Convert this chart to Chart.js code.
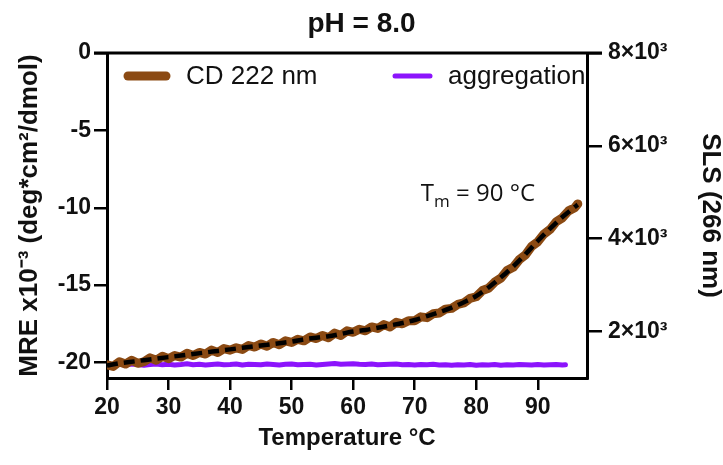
<!DOCTYPE html>
<html><head><meta charset="utf-8">
<script src="https://cdn.jsdelivr.net/npm/chart.js@4.4.1/dist/chart.umd.min.js"></script>
<style>html,body{margin:0;padding:0;background:#fff}#wrap{width:723px;height:465px}</style>
</head><body><div id="wrap"><canvas id="c" width="723" height="465"></canvas></div>
<script>
// ---------- data ----------
const chartTitle = "pH = 8.0";
const xTicks = [20, 30, 40, 50, 60, 70, 80, 90];
const leftTicks = [-20, -15, -10, -5, 0];
const leftTickLabels = ["-20", "-15", "-10", "-5", "0"];
const rightTicks = [2000, 4000, 6000, 8000];
const rightTickLabels = ["2×10³", "4×10³", "6×10³", "8×10³"];

const cdTemps = [20,21,22,23,24,25,26,27,28,29,30,31,32,33,34,35,36,37,38,39,40,41,42,43,44,45,46,47,48,49,
  50,51,52,53,54,55,56,57,58,59,60,61,62,63,64,65,66,67,68,69,70,71,72,73,74,75,76,77,78,79,
  80,81,82,83,84,85,86,87,88,89,90,91,92,93,94,95,96,96.5];
const cdValues = [-20.15,-20.25,-19.95,-20.10,-19.85,-20.05,-19.95,-19.70,-19.85,-19.60,
  -19.75,-19.55,-19.65,-19.40,-19.55,-19.35,-19.45,-19.20,-19.35,-19.10,
  -19.20,-19.05,-19.15,-18.90,-19.00,-18.80,-18.95,-18.70,-18.85,-18.60,
  -18.70,-18.50,-18.60,-18.35,-18.45,-18.25,-18.40,-18.10,-18.25,-17.95,
  -18.05,-17.85,-17.95,-17.70,-17.80,-17.55,-17.70,-17.40,-17.50,-17.30,
  -17.30,-17.05,-17.10,-16.85,-16.80,-16.55,-16.50,-16.25,-16.15,-15.85,
  -15.75,-15.35,-15.20,-14.80,-14.55,-14.05,-13.85,-13.35,-13.05,-12.50,
  -12.20,-11.70,-11.40,-10.90,-10.65,-10.20,-10.00,-9.75];

const fitTemps = [20,22,24,26,28,30,32,34,36,38,40,42,44,46,48,50,52,54,56,58,60,62,64,66,68,70,
  72,74,76,78,80,82,84,86,88,90,92,94,96,96.5];
const fitValues = [-20.20,-20.05,-19.95,-19.85,-19.75,-19.65,-19.55,-19.45,-19.35,-19.25,
  -19.15,-19.05,-18.95,-18.85,-18.75,-18.65,-18.50,-18.40,-18.30,-18.15,
  -18.00,-17.90,-17.75,-17.60,-17.45,-17.25,-17.00,-16.75,-16.45,-16.10,
  -15.70,-15.15,-14.50,-13.80,-13.00,-12.15,-11.35,-10.60,-9.95,-9.80];

const slsTemps = [20,21,22,23,24,25,26,27,28,29,30,31,32,33,34,35,36,37,38,39,40,41,42,43,44,45,46,47,48,49,
  50,51,52,53,54,55,56,57,58,59,60,61,62,63,64,65,66,67,68,69,70,71,72,73,74,75,76,77,78,79,
  80,81,82,83,84,85,86,87,88,89,90,91,92,93,94,94.5];
const slsValues = [1300,1285,1295,1280,1300,1290,1275,1290,1300,1285,
  1295,1280,1290,1305,1285,1295,1280,1290,1300,1285,
  1290,1300,1280,1295,1290,1285,1300,1290,1280,1295,
  1300,1285,1290,1295,1280,1290,1300,1310,1295,1300,
  1305,1295,1290,1300,1285,1290,1295,1300,1285,1290,
  1280,1290,1285,1295,1280,1285,1275,1285,1280,1290,
  1275,1285,1280,1290,1275,1285,1280,1290,1285,1280,
  1290,1280,1285,1290,1280,1285];

const seriesLabels = ["CD 222 nm", "aggregation"];
const annotationMain = "T";
const annotationSub = "m";
const annotationRest = " = 90 °C";

// ---------- styling ----------
const FONT = "'Liberation Sans', Arial, Helvetica, sans-serif";
const BROWN = "#8b4a13";
const PURPLE = "#8c14fc";

const pts = (xs, ys) => xs.map((x, i) => ({ x: x, y: ys[i] }));

const frameTop = {
  id: 'frameTop',
  afterDraw(chart) {
    const { ctx, chartArea: a } = chart;
    ctx.save();
    ctx.strokeStyle = '#000';
    ctx.lineWidth = 3;
    ctx.beginPath();
    ctx.moveTo(a.left - 13, a.top);
    ctx.lineTo(a.right + 15, a.top);
    ctx.stroke();
    ctx.restore();
  }
};

const customLegend = {
  id: 'customLegend',
  afterDraw(chart) {
    const { ctx } = chart;
    const items = [
      { ds: chart.data.datasets[1], x0: 128, x1: 166, tx: 186 },
      { ds: chart.data.datasets[2], x0: 395, x1: 430, tx: 448 }
    ];
    const y = 76;
    ctx.save();
    items.forEach(it => {
      ctx.strokeStyle = it.ds.borderColor;
      ctx.lineWidth = it.ds.borderWidth;
      ctx.lineCap = 'round';
      ctx.beginPath();
      ctx.moveTo(it.x0, y);
      ctx.lineTo(it.x1, y);
      ctx.stroke();
      ctx.fillStyle = '#111';
      ctx.font = "26px " + FONT;
      ctx.textBaseline = 'middle';
      ctx.textAlign = 'left';
      ctx.fillText(it.ds.label, it.tx, y + 1);
    });
    ctx.restore();
  }
};

const tmLabel = {
  id: 'tmLabel',
  afterDraw(chart) {
    const { ctx, scales } = chart;
    const x = scales.x.getPixelForValue(71);
    const y = scales.y.getPixelForValue(-9.55);
    ctx.save();
    ctx.fillStyle = '#111';
    ctx.textBaseline = 'alphabetic';
    ctx.textAlign = 'left';
    ctx.font = "24px 'Open Sans', 'Noto Sans', sans-serif";
    ctx.fillText(annotationMain, x, y);
    const w1 = ctx.measureText(annotationMain).width;
    ctx.font = "17px 'Open Sans', 'Noto Sans', sans-serif";
    ctx.fillText(annotationSub, x + w1, y + 6);
    const w2 = ctx.measureText(annotationSub).width;
    ctx.font = "24px 'Open Sans', 'Noto Sans', sans-serif";
    ctx.fillText(annotationRest, x + w1 + w2, y);
    ctx.restore();
  }
};

new Chart(document.getElementById('c'), {
  type: 'line',
  data: {
    datasets: [
      { label: 'fit', data: pts(fitTemps, fitValues), yAxisID: 'y', borderColor: '#000', borderWidth: 4.5,
        borderDash: [11, 6], pointRadius: 0, cubicInterpolationMode: 'monotone', order: 1, fill: false },
      { label: seriesLabels[0], data: pts(cdTemps, cdValues), yAxisID: 'y', borderColor: BROWN, borderWidth: 9,
        pointRadius: 0, tension: 0, borderJoinStyle: 'round', borderCapStyle: 'round', order: 2, fill: false },
      { label: seriesLabels[1], data: pts(slsTemps, slsValues), yAxisID: 'y2', borderColor: PURPLE, borderWidth: 5,
        pointRadius: 0, tension: 0, borderJoinStyle: 'round', borderCapStyle: 'round', order: 3, fill: false }
    ]
  },
  options: {
    responsive: false,
    animation: false,
    devicePixelRatio: 1,
    layout: { padding: 0 },
    plugins: {
      legend: { display: false },
      tooltip: { enabled: false },
      title: { display: true, text: chartTitle, color: '#111',
        font: { family: FONT, size: 28, weight: 'bold', lineHeight: 1.2 }, padding: { top: 7, bottom: 12.4 } }
    },
    scales: {
      x: {
        type: 'linear', position: 'bottom', min: 20, max: 98,
        afterBuildTicks: s => { s.ticks = xTicks.map(v => ({ value: v })); },
        afterFit: s => { s.height = 87; },
        ticks: { color: '#111', font: { family: FONT, size: 23, weight: 'bold' }, padding: 4, maxRotation: 0, autoSkip: false },
        grid: { display: true, drawOnChartArea: false, drawTicks: true, tickLength: 12, color: '#000', lineWidth: 2.5 },
        border: { display: true, color: '#000', width: 3 },
        title: { display: true, text: 'Temperature °C', color: '#111',
          font: { family: FONT, size: 24, weight: 'bold', lineHeight: 1.2 }, padding: { top: 0, bottom: 12 } }
      },
      y: {
        type: 'linear', position: 'left', min: -21, max: 0,
        afterBuildTicks: s => { s.ticks = leftTicks.map(v => ({ value: v })); },
        afterFit: s => { s.width = 107; },
        ticks: { color: '#111', font: { family: FONT, size: 23, weight: 'bold' }, padding: 3,
          callback: v => leftTickLabels[leftTicks.indexOf(v)] },
        grid: { display: true, drawOnChartArea: false, drawTicks: true, tickLength: 13, color: '#000', lineWidth: 2.5 },
        border: { display: true, color: '#000', width: 3 },
        title: { display: true, text: 'MRE x10⁻³ (deg*cm²/dmol)', color: '#111',
          font: { family: FONT, size: 26, weight: 'bold', lineHeight: 1.2 }, padding: { top: 14, bottom: 0 } }
      },
      y2: {
        type: 'linear', position: 'right', min: 1000, max: 8000,
        afterBuildTicks: s => { s.ticks = rightTicks.map(v => ({ value: v })); },
        afterFit: s => { s.width = 136; },
        ticks: { color: '#111', font: { family: FONT, size: 23, weight: 'bold' }, padding: 6,
          callback: v => rightTickLabels[rightTicks.indexOf(v)] },
        grid: { display: true, drawOnChartArea: false, drawTicks: true, tickLength: 15, color: '#000', lineWidth: 2.5 },
        border: { display: true, color: '#000', width: 3 },
        title: { display: true, text: 'SLS (266 nm)', color: '#111',
          font: { family: FONT, size: 26, weight: 'bold', lineHeight: 1.0 }, padding: { top: 0, bottom: 0 } }
      }
    }
  },
  plugins: [frameTop, customLegend, tmLabel]
});
</script>
</body></html>
